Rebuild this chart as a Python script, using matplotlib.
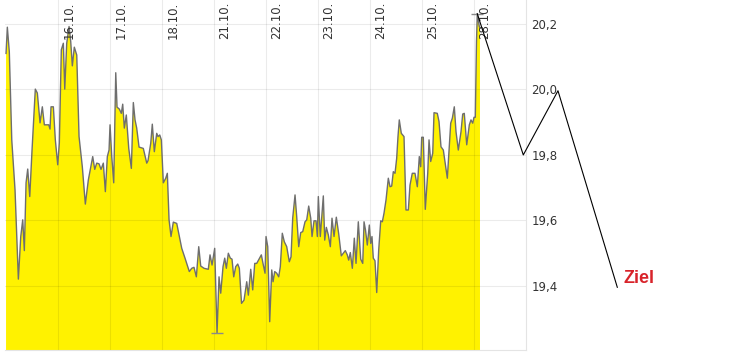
import matplotlib
matplotlib.use('Agg')
import matplotlib.pyplot as plt
import matplotlib.transforms as mtransforms
import numpy as np

# Zeit in Handelstagen ab 15.10. (16.10. = 1, ..., 28.10. = 9)
zeit = [0.0, 0.025, 0.063, 0.110, 0.173, 0.237, 0.283, 0.321, 0.352, 0.385,
        0.417, 0.456, 0.500, 0.563, 0.602, 0.654, 0.698, 0.737, 0.821, 0.846,
        0.865, 0.910, 0.948, 0.994, 1.025, 1.063, 1.102, 1.129, 1.167, 1.212,
        1.244, 1.275, 1.313, 1.360, 1.404, 1.467, 1.525, 1.583, 1.667, 1.706,
        1.744, 1.788, 1.827, 1.871, 1.910, 1.948, 1.981, 2.000, 2.033, 2.071,
        2.110, 2.135, 2.179, 2.217, 2.244, 2.275, 2.313, 2.360, 2.410, 2.448,
        2.481, 2.513, 2.558, 2.640, 2.706, 2.731, 2.783, 2.813, 2.852, 2.898,
        2.923, 2.956, 2.987, 3.025, 3.071, 3.102, 3.135, 3.173, 3.217, 3.283,
        3.379, 3.442, 3.525, 3.571, 3.615, 3.660, 3.706, 3.744, 3.808, 3.890,
        3.923, 3.962, 4.013, 4.058, 4.096, 4.129, 4.173, 4.206, 4.237, 4.275,
        4.313, 4.346, 4.379, 4.417, 4.456, 4.487, 4.529, 4.577, 4.629, 4.660,
        4.706, 4.744, 4.783, 4.821, 4.865, 4.910, 4.948, 4.981, 5.000, 5.033,
        5.071, 5.110, 5.135, 5.167, 5.206, 5.244, 5.275, 5.313, 5.352, 5.398,
        5.448, 5.481, 5.513, 5.558, 5.590, 5.629, 5.667, 5.706, 5.750, 5.783,
        5.821, 5.860, 5.885, 5.923, 5.962, 5.987, 6.006, 6.044, 6.102, 6.129,
        6.160, 6.198, 6.237, 6.269, 6.308, 6.352, 6.398, 6.448, 6.487, 6.525,
        6.563, 6.590, 6.621, 6.660, 6.698, 6.731, 6.775, 6.821, 6.860, 6.885,
        6.913, 6.948, 6.987, 7.013, 7.038, 7.063, 7.096, 7.129, 7.167, 7.206,
        7.237, 7.269, 7.308, 7.352, 7.385, 7.417, 7.448, 7.481, 7.513, 7.538,
        7.563, 7.602, 7.654, 7.692, 7.737, 7.769, 7.813, 7.865, 7.910, 7.948,
        7.975, 7.994, 8.025, 8.063, 8.110, 8.135, 8.167, 8.206, 8.231, 8.294,
        8.327, 8.365, 8.410, 8.487, 8.552, 8.583, 8.621, 8.654, 8.698, 8.750,
        8.783, 8.813, 8.860, 8.910, 8.942, 8.975, 9.000, 9.025, 9.048, 9.063,
        9.102, 9.115]

kurs = [20.110, 20.190, 20.115, 19.846, 19.693, 19.421, 19.551, 19.602, 19.508, 19.715,
        19.757, 19.673, 19.815, 20.001, 19.989, 19.898, 19.947, 19.892, 19.892, 19.879,
        19.947, 19.947, 19.846, 19.770, 19.837, 20.121, 20.141, 20.001, 20.141, 20.192,
        20.146, 20.072, 20.129, 20.105, 19.856, 19.764, 19.650, 19.724, 19.795, 19.756,
        19.775, 19.773, 19.756, 19.775, 19.688, 19.795, 19.815, 19.892, 19.795, 19.715,
        20.051, 19.946, 19.940, 19.927, 19.955, 19.882, 19.922, 19.820, 19.759, 19.960,
        19.907, 19.882, 19.824, 19.820, 19.775, 19.783, 19.836, 19.894, 19.810, 19.866,
        19.856, 19.861, 19.846, 19.715, 19.729, 19.744, 19.602, 19.551, 19.595, 19.591,
        19.515, 19.485, 19.444, 19.454, 19.457, 19.428, 19.520, 19.461, 19.454, 19.451,
        19.495, 19.464, 19.515, 19.256, 19.428, 19.378, 19.459, 19.485, 19.454, 19.500,
        19.485, 19.482, 19.428, 19.459, 19.467, 19.454, 19.347, 19.357, 19.413, 19.372,
        19.451, 19.388, 19.469, 19.469, 19.482, 19.495, 19.464, 19.439, 19.551, 19.520,
        19.291, 19.449, 19.413, 19.444, 19.439, 19.428, 19.459, 19.561, 19.535, 19.520,
        19.474, 19.489, 19.607, 19.678, 19.612, 19.520, 19.563, 19.566, 19.596, 19.602,
        19.644, 19.607, 19.551, 19.599, 19.599, 19.551, 19.673, 19.551, 19.675, 19.540,
        19.579, 19.556, 19.520, 19.607, 19.551, 19.610, 19.559, 19.492, 19.500, 19.508,
        19.495, 19.479, 19.502, 19.454, 19.546, 19.469, 19.596, 19.482, 19.469, 19.596,
        19.571, 19.525, 19.586, 19.530, 19.551, 19.485, 19.477, 19.380, 19.510, 19.599,
        19.596, 19.622, 19.663, 19.729, 19.703, 19.705, 19.749, 19.744, 19.790, 19.856,
        19.907, 19.866, 19.856, 19.632, 19.632, 19.708, 19.744, 19.744, 19.703, 19.795,
        19.764, 19.854, 19.854, 19.634, 19.744, 19.846, 19.780, 19.805, 19.929, 19.927,
        19.902, 19.825, 19.815, 19.729, 19.897, 19.912, 19.947, 19.871, 19.815, 19.871,
        19.925, 19.927, 19.831, 19.892, 19.907, 19.897, 19.915, 19.915, 20.146, 20.231,
        20.192, 20.188]

# Prognose-Linie bis zum Kursziel
prog_zeit = [9.063, 9.948, 10.615, 11.756]
prog_kurs = [20.231, 19.800, 19.996, 19.396]

tage = [1, 2, 3, 4, 5, 6, 7, 8, 9]
tag_labels = ['16.10.', '17.10.', '18.10.', '21.10.', '22.10.', '23.10.',
              '24.10.', '25.10.', '28.10.']
y_ticks = [19.4, 19.6, 19.8, 20.0, 20.2]
y_labels = ['19,4', '19,6', '19,8', '20,0', '20,2']

fig = plt.figure(figsize=(7.34, 3.52), dpi=100)
ax = fig.add_axes([5 / 734, 2 / 352, 521 / 734, 350 / 352])

ax.fill_between(zeit, kurs, 19.0, color='#fff200', lw=0, zorder=1)
ax.plot(zeit, kurs, color='#6e6e6e', lw=1.0, zorder=3)

# Tageshoch / Tagestief Markierung
i_max = int(np.argmax(kurs))
i_min = int(np.argmin(kurs))
ax.plot([zeit[i_max], zeit[i_min]], [kurs[i_max], kurs[i_min]], ls='none',
        marker='_', markersize=9, mew=1.0, color='#8a8a8a', zorder=4)

ax.set_xlim(-0.02, 10.0)
ax.set_ylim(19.2046, 20.273)

ax.set_xticks(tage)
ax.set_xticklabels([])
ax.set_yticks(y_ticks)
ax.set_yticklabels(y_labels)
ax.yaxis.tick_right()
ax.tick_params(axis='both', length=0)
ax.tick_params(axis='y', labelsize=8.5, labelcolor='#333333', pad=4)

ax.grid(True, color='#000000', alpha=0.08, lw=0.8, zorder=2)
ax.set_axisbelow(False)

for side in ['top', 'left']:
    ax.spines[side].set_visible(False)
for side in ['right', 'bottom']:
    ax.spines[side].set_color('#e4e4e4')
    ax.spines[side].set_linewidth(0.8)

# Datumsbeschriftung senkrecht, oben im Chart
trans = mtransforms.blended_transform_factory(ax.transData, ax.transAxes)
for t, lab in zip(tage, tag_labels):
    ax.text(t + 0.08, 0.995, lab, transform=trans, rotation=90, ha='left', va='top',
            fontsize=8.5, color='#333333', zorder=5)

ax.plot(prog_zeit, prog_kurs, color='black', lw=0.8, clip_on=False, zorder=6)
ax.annotate('Ziel', xy=(prog_zeit[-1], prog_kurs[-1]), xytext=(4.5, 3),
            textcoords='offset points', ha='left', va='baseline',
            fontsize=13, fontweight='bold', color='#d8232a',
            family='Liberation Sans', annotation_clip=False)

fig.savefig('out.png', dpi=100)
